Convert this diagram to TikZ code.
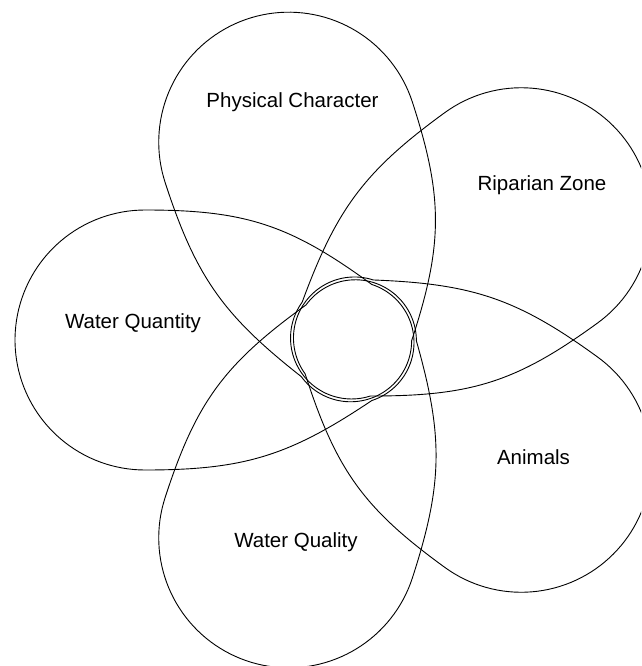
\documentclass[tikz,border=0pt]{standalone}
\usepackage{fontspec}
\setmainfont{Liberation Sans}
\begin{document}
\tikzset{
  petalline/.style={line width=0.9pt, black, line join=round},
  lbl/.style={font=\fontsize{20.5}{24}\selectfont, anchor=base, inner sep=0pt}
}
\newcommand\mypetal[1]{%
  \draw[petalline] (-18.85,-58+#1) .. controls (63.1,-115.4) and (108,-130) .. (208,-130)
    -- plot[domain=-90:90,samples=72] ({208+130*cos(\x)},{130*sin(\x)})
    .. controls (108,130) and (63.1,115.4) .. (-18.85,58+#1)
    -- plot[domain=108:252,samples=48] ({61*cos(\x)},{#1+61*sin(\x)}) -- cycle;}
\begin{tikzpicture}[x=1pt,y=1pt]
\useasboundingbox (0,0) rectangle (641,-666);
\clip (0,0) rectangle (641,-666);
\coordinate (C) at (353,-340);
\foreach \a in {108,36,324,252,180}{
  \begin{scope}[shift={(C)},rotate=\a]
    \mypetal{2.5}
  \end{scope}
}
\node[lbl] (pc) at (292.5,-107) {Physical Character};
\node[lbl] (rz) at (542,-190) {Riparian Zone};
\node[lbl] (wqn) at (133,-328) {Water Quantity};
\node[lbl] (an) at (533.5,-464) {Animals};
\node[lbl] (wql) at (296,-547) {Water Quality};
\end{tikzpicture}
\end{document}
